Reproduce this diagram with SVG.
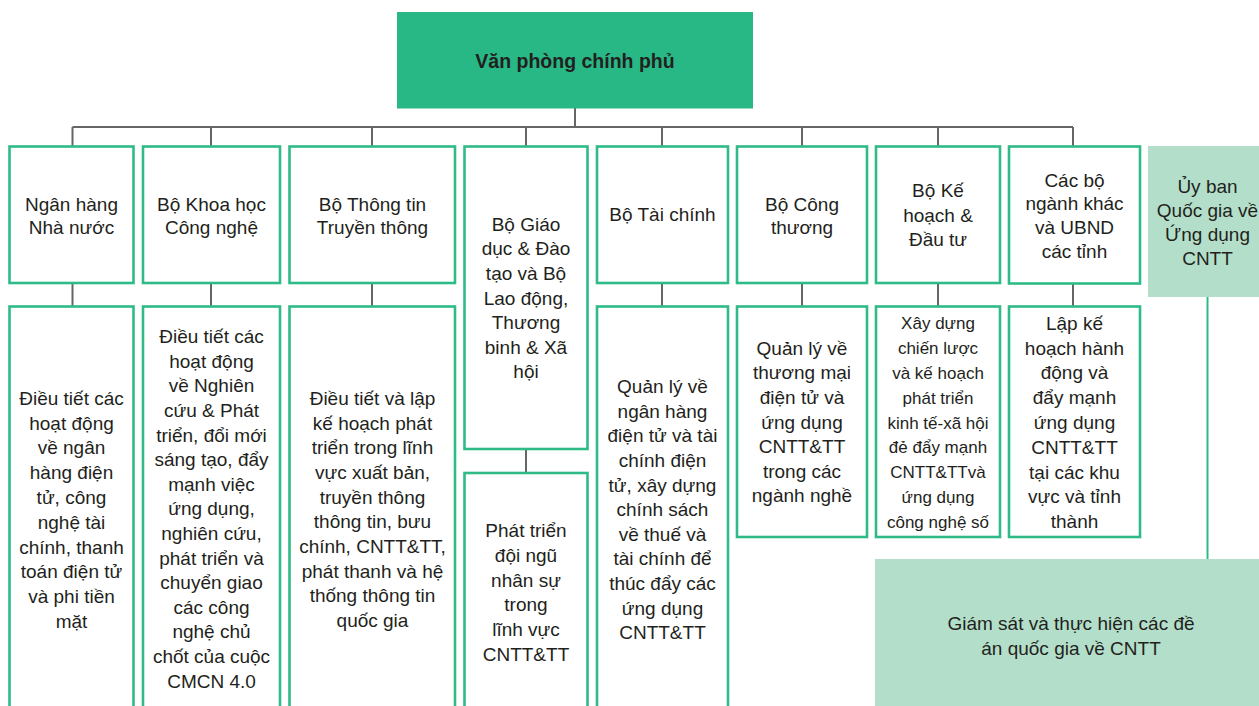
<svg xmlns="http://www.w3.org/2000/svg" width="1259" height="706" viewBox="0 0 1259 706">
<style>
.bx{fill:#fff;stroke:#2fbb88;stroke-width:2.6}
.lt{fill:#b3dfca;stroke:none}
.top{fill:#27b886;stroke:none}
.t{font-family:"Liberation Sans",Arial,sans-serif;font-size:19px;fill:#231f20;text-anchor:middle}
.s{font-size:17px}
.b{font-weight:bold;font-size:19.5px}
.c{stroke:#666;stroke-width:2;fill:none}
.g{stroke:#2fbb88;stroke-width:2;fill:none}
</style>
<rect width="1259" height="706" fill="#fff"/>
<g id="connectors">
<path class="c" d="M575,108V127M72.5,127H1073M72.5,127V146M211,127V146M372,127V146M526,127V146M662,127V146M802,127V146M938,127V146M1073,127V146"/>
<path class="c" d="M72.5,283V306M211,283V306M372,283V306M662,283V306M802,283V306M938,283V306M1073,284V306M526,449V473"/>
<path class="g" d="M1207.5,297V559"/>
</g>
<g id="n-vpcp"><rect class="top" x="397" y="12" width="356" height="96.5"/><text class="t b" x="575" y="68">Văn phòng chính phủ</text></g>
<g id="n-nhnn"><rect class="bx" x="9.5" y="146.5" width="124" height="136.5"/><text class="t" x="71.5" y="210.8"><tspan x="71.5">Ngân hàng</tspan><tspan x="71.5" dy="23.5">Nhà nước</tspan></text></g>
<g id="n-khcn"><rect class="bx" x="143" y="146.5" width="137" height="136.5"/><text class="t" x="211.5" y="210.8"><tspan x="211.5">Bộ Khoa học</tspan><tspan x="211.5" dy="23.5">Công nghệ</tspan></text></g>
<g id="n-tttt"><rect class="bx" x="289.5" y="146.5" width="165.5" height="136.5"/><text class="t" x="372.5" y="210.8"><tspan x="372.5">Bộ Thông tin</tspan><tspan x="372.5" dy="23.5">Truyền thông</tspan></text></g>
<g id="n-gddt"><rect class="bx" x="464.5" y="146.5" width="123" height="302.5"/><text class="t" x="526" y="230.8"><tspan x="526">Bộ Giáo</tspan><tspan x="526" dy="24.6">dục &amp; Đào</tspan><tspan x="526" dy="24.6">tạo và Bộ</tspan><tspan x="526" dy="24.6">Lao động,</tspan><tspan x="526" dy="24.6">Thương</tspan><tspan x="526" dy="24.6">binh &amp; Xã</tspan><tspan x="526" dy="24.6">hội</tspan></text></g>
<g id="n-tc"><rect class="bx" x="597" y="146.5" width="131" height="136.5"/><text class="t" x="662.5" y="220.8">Bộ Tài chính</text></g>
<g id="n-ct"><rect class="bx" x="737" y="146.5" width="130" height="136.5"/><text class="t" x="802" y="210.8"><tspan x="802">Bộ Công</tspan><tspan x="802" dy="23.5">thương</tspan></text></g>
<g id="n-khdt"><rect class="bx" x="876" y="146.5" width="124" height="136.5"/><text class="t" x="938" y="197.2"><tspan x="938">Bộ Kế</tspan><tspan x="938" dy="24.3">hoạch &amp;</tspan><tspan x="938" dy="24.3">Đầu tư</tspan></text></g>
<g id="n-khac"><rect class="bx" x="1009" y="146.5" width="131" height="137"/><text class="t" x="1074.5" y="186.5"><tspan x="1074.5">Các bộ</tspan><tspan x="1074.5" dy="23.9">ngành khác</tspan><tspan x="1074.5" dy="23.9">và UBND</tspan><tspan x="1074.5" dy="23.9">các tỉnh</tspan></text></g>
<g id="n-ubqg"><rect class="lt" x="1148" y="146" width="120" height="151"/><text class="t" x="1207.5" y="192.5"><tspan x="1207.5">Ủy ban</tspan><tspan x="1207.5" dy="24.1">Quốc gia về</tspan><tspan x="1207.5" dy="24.1">Ứng dụng</tspan><tspan x="1207.5" dy="24.1">CNTT</tspan></text></g>
<g id="d-nhnn"><rect class="bx" x="9.5" y="306.5" width="124" height="420"/><text class="t" x="71.5" y="404.8"><tspan x="71.5">Điều tiết các</tspan><tspan x="71.5" dy="24.8">hoạt động</tspan><tspan x="71.5" dy="24.8">về ngân</tspan><tspan x="71.5" dy="24.8">hàng điện</tspan><tspan x="71.5" dy="24.8">tử, công</tspan><tspan x="71.5" dy="24.8">nghệ tài</tspan><tspan x="71.5" dy="24.8">chính, thanh</tspan><tspan x="71.5" dy="24.8">toán điện tử</tspan><tspan x="71.5" dy="24.8">và phi tiền</tspan><tspan x="71.5" dy="24.8">mặt</tspan></text></g>
<g id="d-khcn"><rect class="bx" x="143" y="306.5" width="137" height="420"/><text class="t" x="211.5" y="343.2"><tspan x="211.5">Điều tiết các</tspan><tspan x="211.5" dy="24.6">hoạt động</tspan><tspan x="211.5" dy="24.6">về Nghiên</tspan><tspan x="211.5" dy="24.6">cứu &amp; Phát</tspan><tspan x="211.5" dy="24.6">triển, đổi mới</tspan><tspan x="211.5" dy="24.6">sáng tạo, đẩy</tspan><tspan x="211.5" dy="24.6">mạnh việc</tspan><tspan x="211.5" dy="24.6">ứng dụng,</tspan><tspan x="211.5" dy="24.6">nghiên cứu,</tspan><tspan x="211.5" dy="24.6">phát triển và</tspan><tspan x="211.5" dy="24.6">chuyển giao</tspan><tspan x="211.5" dy="24.6">các công</tspan><tspan x="211.5" dy="24.6">nghệ chủ</tspan><tspan x="211.5" dy="24.6">chốt của cuộc</tspan><tspan x="211.5" dy="24.6">CMCN 4.0</tspan></text></g>
<g id="d-tttt"><rect class="bx" x="289.5" y="306.5" width="165.5" height="420"/><text class="t" x="372.5" y="404.8"><tspan x="372.5">Điều tiết và lập</tspan><tspan x="372.5" dy="24.7">kế hoạch phát</tspan><tspan x="372.5" dy="24.7">triển trong lĩnh</tspan><tspan x="372.5" dy="24.7">vực xuất bản,</tspan><tspan x="372.5" dy="24.7">truyền thông</tspan><tspan x="372.5" dy="24.7">thông tin, bưu</tspan><tspan x="372.5" dy="24.7">chính, CNTT&amp;TT,</tspan><tspan x="372.5" dy="24.7">phát thanh và hệ</tspan><tspan x="372.5" dy="24.7">thống thông tin</tspan><tspan x="372.5" dy="24.7">quốc gia</tspan></text></g>
<g id="d-gddt"><rect class="bx" x="464.5" y="473" width="123" height="250"/><text class="t" x="526" y="537.2"><tspan x="526">Phát triển</tspan><tspan x="526" dy="24.7">đội ngũ</tspan><tspan x="526" dy="24.7">nhân sự</tspan><tspan x="526" dy="24.7">trong</tspan><tspan x="526" dy="24.7">lĩnh vực</tspan><tspan x="526" dy="24.7">CNTT&amp;TT</tspan></text></g>
<g id="d-tc"><rect class="bx" x="597" y="306.5" width="131" height="420"/><text class="t" x="662.5" y="393.2"><tspan x="662.5">Quản lý về</tspan><tspan x="662.5" dy="24.6">ngân hàng</tspan><tspan x="662.5" dy="24.6">điện tử và tài</tspan><tspan x="662.5" dy="24.6">chính điện</tspan><tspan x="662.5" dy="24.6">tử, xây dựng</tspan><tspan x="662.5" dy="24.6">chính sách</tspan><tspan x="662.5" dy="24.6">về thuế và</tspan><tspan x="662.5" dy="24.6">tài chính để</tspan><tspan x="662.5" dy="24.6">thúc đẩy các</tspan><tspan x="662.5" dy="24.6">ứng dụng</tspan><tspan x="662.5" dy="24.6">CNTT&amp;TT</tspan></text></g>
<g id="d-ct"><rect class="bx" x="737" y="306.5" width="130" height="230.5"/><text class="t" x="802" y="354.8"><tspan x="802">Quản lý về</tspan><tspan x="802" dy="24.6">thương mại</tspan><tspan x="802" dy="24.6">điện tử và</tspan><tspan x="802" dy="24.6">ứng dụng</tspan><tspan x="802" dy="24.6">CNTT&amp;TT</tspan><tspan x="802" dy="24.6">trong các</tspan><tspan x="802" dy="24.6">ngành nghề</tspan></text></g>
<g id="d-khdt"><rect class="bx" x="876" y="306.5" width="124" height="230.5"/><text class="t s" x="938" y="329.3"><tspan x="938">Xây dựng</tspan><tspan x="938" dy="24.8">chiến lược</tspan><tspan x="938" dy="24.8">và kế hoạch</tspan><tspan x="938" dy="24.8">phát triển</tspan><tspan x="938" dy="24.8">kinh tế-xã hội</tspan><tspan x="938" dy="24.8">đẻ đẩy mạnh</tspan><tspan x="938" dy="24.8">CNTT&amp;TTvà</tspan><tspan x="938" dy="24.8">ứng dụng</tspan><tspan x="938" dy="24.8">công nghệ số</tspan></text></g>
<g id="d-khac"><rect class="bx" x="1009" y="306.5" width="131" height="230.5"/><text class="t" x="1074.5" y="329.8"><tspan x="1074.5">Lập kế</tspan><tspan x="1074.5" dy="24.8">hoạch hành</tspan><tspan x="1074.5" dy="24.8">động và</tspan><tspan x="1074.5" dy="24.8">đẩy mạnh</tspan><tspan x="1074.5" dy="24.8">ứng dụng</tspan><tspan x="1074.5" dy="24.8">CNTT&amp;TT</tspan><tspan x="1074.5" dy="24.8">tại các khu</tspan><tspan x="1074.5" dy="24.8">vực và tỉnh</tspan><tspan x="1074.5" dy="24.8">thành</tspan></text></g>
<g id="d-ubqg"><rect class="lt" x="875" y="559" width="400" height="160"/><text class="t" x="1071" y="629.8"><tspan x="1071">Giám sát và thực hiện các đề</tspan><tspan x="1071" dy="25">án quốc gia về CNTT</tspan></text></g>
</svg>
